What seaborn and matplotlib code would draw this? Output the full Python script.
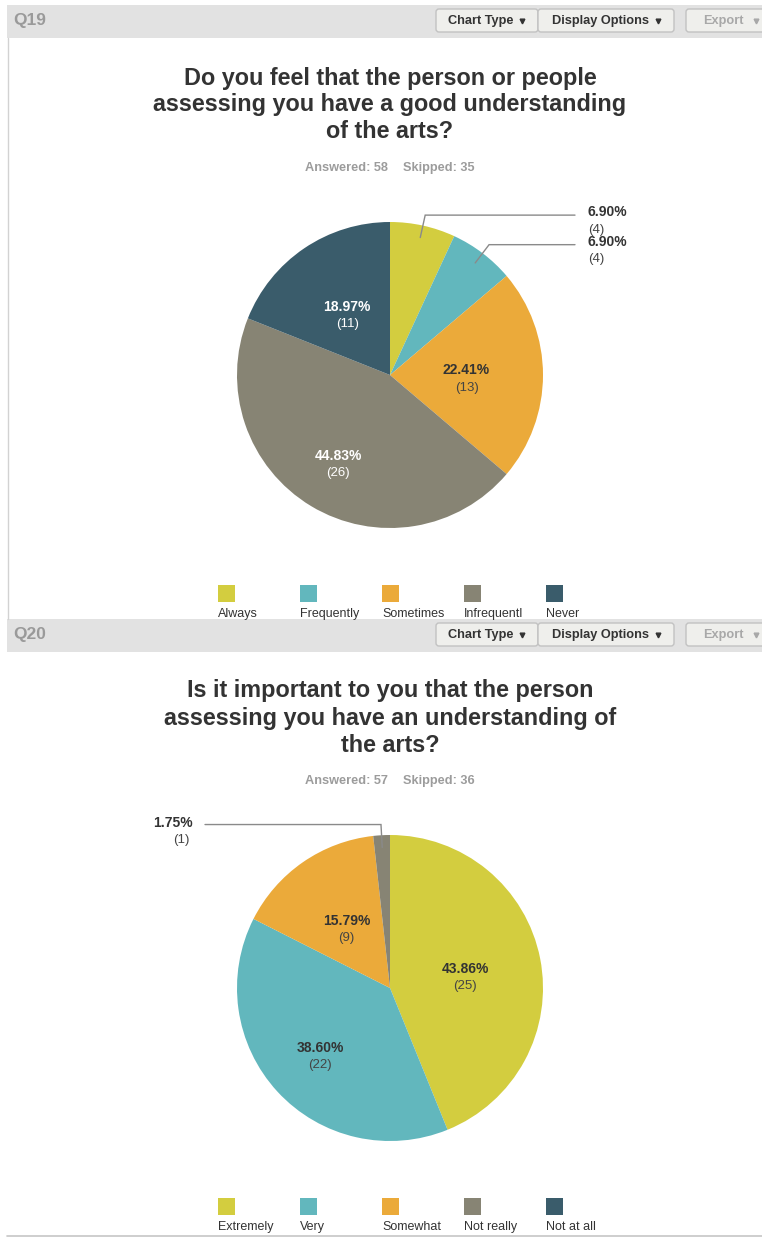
import numpy as np
import matplotlib
matplotlib.use("Agg")
import matplotlib.pyplot as plt
import seaborn as sns
from matplotlib.patches import Rectangle, FancyBboxPatch

# ---- survey data -------------------------------------------------------
q19_title = ["Do you feel that the person or people",
             "assessing you have a good understanding",
             "of the arts?"]
q19_categories = ["Always", "Frequently", "Sometimes", "Infrequentl", "Never"]
q19_counts = [4, 4, 13, 26, 11]
q19_answered = 58
q19_skipped = 35

q20_title = ["Is it important to you that the person",
             "assessing you have an understanding of",
             "the arts?"]
q20_categories = ["Extremely", "Very", "Somewhat", "Not really", "Not at all"]
q20_counts = [25, 22, 9, 1, 0]
q20_answered = 57
q20_skipped = 36

slice_colors = ["#d3cd3f", "#62b7bd", "#ebaa3a", "#878474", "#3a5c6b"]
light_text_slices = [3, 4]

# ---- figure setup ------------------------------------------------------
sns.set_theme(style="white")
plt.rcParams["font.family"] = ["Liberation Sans", "DejaVu Sans"]
palette = sns.color_palette(slice_colors)

W, H = 762, 1237
fig = plt.figure(figsize=(W / 100, H / 100), dpi=100)
fig.patch.set_facecolor("white")
ax = fig.add_axes([0, 0, 1, 1])

CX, R = 390, 153


def Y(y):
    return H - y


def header(label, top):
    ax.add_patch(Rectangle((7, Y(top + 33)), W - 7, 33, facecolor="#e2e2e2",
                           edgecolor="none", zorder=1))
    ax.text(13, Y(top + 16), label, fontsize=12.5, fontweight="bold",
            color="#9a9a9a", ha="left", va="center", zorder=3)
    buttons = [("Chart Type", 436, 538, "#333333"),
               ("Display Options", 538, 674, "#333333"),
               ("Export", 686, 772, "#a8a8a8")]
    for text, x0, x1, tc in buttons:
        ax.add_patch(FancyBboxPatch((x0, Y(top + 27)), x1 - x0, 23,
                                    boxstyle="round,pad=0,rounding_size=3",
                                    facecolor="#efefec", edgecolor="#c2c2c2",
                                    linewidth=1, zorder=2))
        tx = (x0 + x1) / 2 - 6
        ax.text(tx, Y(top + 16), text, fontsize=9.2, fontweight="bold",
                color=tc, ha="center", va="center", zorder=3)
        # small dropdown arrow
        ax.plot([x1 - 16], [Y(top + 16)], marker="v", markersize=3.4,
                color=tc, zorder=3, linestyle="none")


def panel(top, cy, title, cats, counts, answered, skipped):
    cyy = Y(cy)
    for i, line in enumerate(title):
        ax.text(CX, Y(cy - 297 + 27 * i), line, fontsize=16.8,
                fontweight="bold", color="#333333", ha="center",
                va="center", zorder=3)
    ax.text(CX - 2, Y(cy - 207), f"Answered: {answered}", fontsize=9.2,
            fontweight="bold", color="#9c9c9c", ha="right", va="center")
    ax.text(CX + 13, Y(cy - 207), f"Skipped: {skipped}", fontsize=9.2,
            fontweight="bold", color="#9c9c9c", ha="left", va="center")

    wedges, _ = ax.pie(counts, colors=palette, startangle=90,
                       counterclock=False, center=(CX, cyy), radius=R,
                       wedgeprops=dict(linewidth=0))
    total = sum(counts)
    for i, (w, c) in enumerate(zip(wedges, counts)):
        if c == 0:
            continue
        frac = c / total
        mid = np.deg2rad((w.theta1 + w.theta2) / 2)
        ux, uy = np.cos(mid), np.sin(mid)
        pct = f"{100 * frac:.2f}%"
        cnt = f"({c})"
        if frac >= 0.1:
            # labels in the lower half sit a little further out
            rf = 0.5 + 0.18 * max(0.0, -uy)
            lx, ly = CX + rf * R * ux, cyy + rf * R * uy
            tc = "white" if i in light_text_slices else "#333333"
            cc = "white" if i in light_text_slices else "#444444"
            ax.text(lx, ly + 4.5, pct, fontsize=10, fontweight="bold",
                    color=tc, ha="center", va="center", zorder=4)
            ax.text(lx, ly - 12.5, cnt, fontsize=9.5, color=cc,
                    ha="center", va="center", zorder=4)
        else:
            x0, y0 = CX + 0.92 * R * ux, cyy + 0.92 * R * uy
            x1, y1 = CX + 1.07 * R * ux, cyy + 1.07 * R * uy
            right = ux >= 0
            x2 = CX + 185 if right else CX - 185
            ax.plot([x0, x1, x2], [y0, y1, y1], color="#8a8a8a", lw=1,
                    zorder=4, solid_joinstyle="miter")
            if right:
                ax.text(CX + 198, y1 + 3, pct, fontsize=10, fontweight="bold",
                        color="#333333", ha="left", va="center", zorder=4)
                ax.text(CX + 198, y1 - 14.5, cnt, fontsize=9.5, color="#444444",
                        ha="left", va="center", zorder=4)
            else:
                ax.text(CX - 197, y1 + 2, pct, fontsize=10, fontweight="bold",
                        color="#333333", ha="right", va="center", zorder=4)
                ax.text(CX - 200, y1 - 15, cnt, fontsize=9.5, color="#444444",
                        ha="right", va="center", zorder=4)

    # legend row: swatch above each category name
    for i, cat in enumerate(cats):
        lx = 218 + 82 * i
        ax.add_patch(Rectangle((lx, Y(cy + 227)), 17, 17,
                               facecolor=palette[i], edgecolor="none"))
        ax.text(lx, Y(cy + 239), cat, fontsize=9, color="#333333",
                ha="left", va="center")


header("Q19", 5)
ax.plot([7.5, 7.5], [Y(38), Y(619)], color="#d2d2d2", lw=1)
panel(38, 375, q19_title, q19_categories, q19_counts, q19_answered, q19_skipped)

header("Q20", 619)
panel(652, 988, q20_title, q20_categories, q20_counts, q20_answered, q20_skipped)
ax.plot([7, W], [Y(1235.5), Y(1235.5)], color="#c6c6c6", lw=1.2)

ax.set_xlim(0, W)
ax.set_ylim(0, H)
ax.set_aspect("auto")
ax.axis("off")

fig.savefig("out.png", dpi=100, facecolor="white")
